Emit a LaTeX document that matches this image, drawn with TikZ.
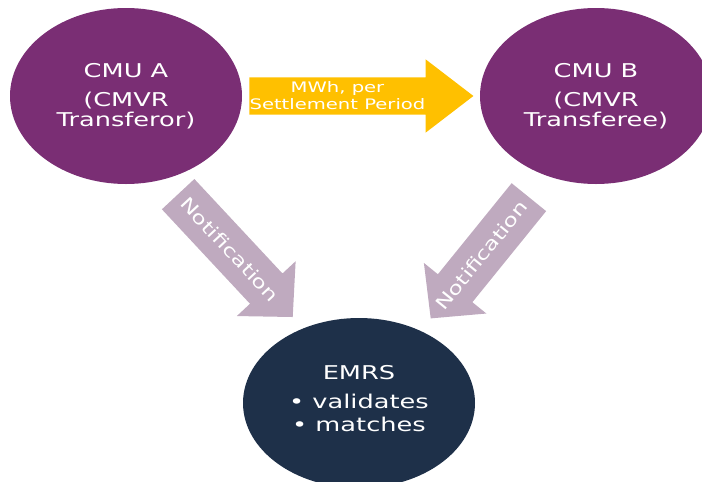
\documentclass[tikz,border=0pt]{standalone}
\usepackage{fontspec}
\setmainfont{DejaVu Sans}
\newfontfamily\widesans[FakeStretch=1.35]{DejaVu Sans}
\newfontfamily\notesans[FakeStretch=1.3]{DejaVu Sans}
\usetikzlibrary{shapes.geometric,shapes.arrows,calc}

\definecolor{cmupurple}{HTML}{7A2E74}
\definecolor{emrsnavy}{HTML}{1E3049}
\definecolor{flowyellow}{HTML}{FFC000}
\definecolor{notemauve}{HTML}{BFAABF}

\begin{document}
\begin{tikzpicture}[x=1pt, y=-1pt,
  unit/.style={ellipse, fill=#1, text=white, inner sep=0pt,
    minimum width=232pt, minimum height=176pt, align=center},
  blockarrow/.style={single arrow, fill=#1, inner xsep=0pt, inner ysep=18.5pt,
    single arrow head extend=18pt, single arrow tip angle=75, anchor=tail},
  notearrow/.style={single arrow, fill=notemauve, inner xsep=0pt, inner ysep=22pt,
    single arrow head extend=18pt, single arrow tip angle=92, anchor=tail},
  notetext/.style={text=white, font=\notesans\fontsize{18}{20}\selectfont}
]

\def \cmufont {\widesans\fontsize{19}{20}\selectfont}

\useasboundingbox (0,0) rectangle (702,482);

% the two CMUs and EMRS
\node[unit=cmupurple, font=\cmufont] (cmua) at (126,96)
  {CMU A\\[9pt](CMVR\\Transferor)};
\node[unit=cmupurple, font=\cmufont] (cmub) at (596,96)
  {CMU B\\[9pt](CMVR\\Transferee)};
\node[unit=emrsnavy, minimum height=170pt] (emrs) at (359,403) {};
\node[text=white, align=center, font=\widesans\fontsize{19}{23}\selectfont]
  (emrstext) at (359,399) {EMRS\\[6pt]• validates\\• matches};

% MWh flow
\node[blockarrow=flowyellow, minimum height=224pt] (flow)
  at ([xshift=7pt]cmua.east) {};
\node[text=white, align=center, font=\widesans\fontsize{14.5}{17}\selectfont]
  (flowtext) at ([xshift=-24pt]$(flow.tail)!0.5!(flow.tip)$) {MWh, per\\Settlement Period};

% notifications
\node[notearrow, minimum height=168pt, rotate=-47] (notea) at (178,194) {};
\node[notetext, rotate=-47] (noteatext) at ($(notea.tail)!0.45!(notea.tip)$) {Notification};
\node[notearrow, minimum height=156pt, rotate=-129] (noteb) at (529,197) {};
\node[notetext, rotate=51] (notebtext) at ($(noteb.tail)!0.48!(noteb.tip)$) {Notification};

\end{tikzpicture}
\end{document}
